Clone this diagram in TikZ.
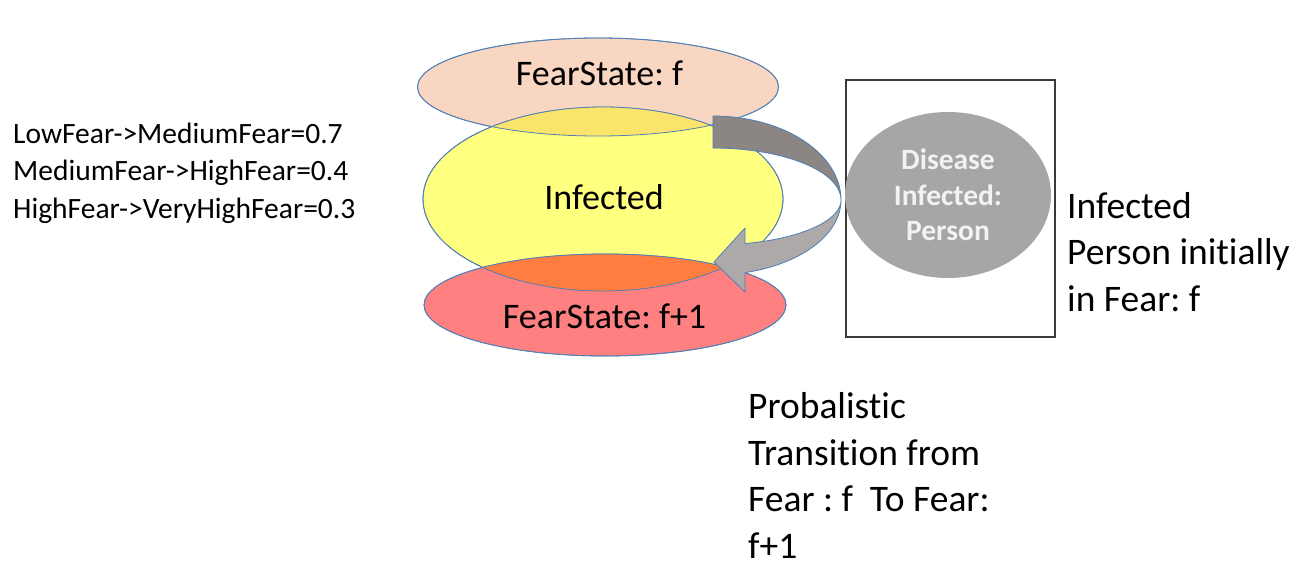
\documentclass[tikz,border=0pt]{standalone}
\usepackage{fontspec}
\setmainfont{Carlito}[Ligatures=NoCommon]
\usetikzlibrary{shapes.geometric}

\definecolor{peach}{HTML}{F9D6C1}
\definecolor{peachyellow}{HTML}{FBE46B}
\definecolor{lightyellow}{HTML}{FFFF80}
\definecolor{salmon}{HTML}{FF8080}
\definecolor{orangemix}{HTML}{FF7D41}
\definecolor{shapeline}{HTML}{4F7FB5}
\definecolor{arrowdark}{HTML}{8B8584}
\definecolor{arrowlight}{HTML}{AEA9A9}
\definecolor{personfill}{HTML}{A6A6A6}
\definecolor{boxline}{HTML}{3A3A3A}

\tikzset{
  state/.style={ellipse, draw=shapeline, line width=0.8pt, inner sep=0pt},
  statelabel/.style={font=\fontsize{36}{42}\selectfont, inner sep=0pt, anchor=base},
  note/.style={font=\fontsize{37.5}{46.5}\selectfont, align=left, inner sep=0pt, anchor=base west},
  rules/.style={font=\fontsize{29.5}{37.5}\selectfont, align=left, inner sep=0pt, anchor=base west},
  arrowband/.style={draw=shapeline, line width=0.8pt, line join=round},
}

\begin{document}
\frenchspacing
\begin{tikzpicture}[x=1pt, y=-1pt]
\useasboundingbox (0,0) rectangle (1316,565);

% three fear-state ellipses (fills first, outlines last)
\node[state, fill=peach, minimum width=361pt, minimum height=98pt] (fs) at (598,87) {};
\node[state, fill=lightyellow, minimum width=360pt, minimum height=184pt] (inf) at (603,199) {};
\node[state, fill=salmon, minimum width=362pt, minimum height=102pt] (fs1) at (605,305) {};

% overlapping regions
\begin{scope}
  \clip (598,87) ellipse [x radius=180.5pt, y radius=49pt];
  \fill[peachyellow] (603,199) ellipse [x radius=180pt, y radius=92pt];
\end{scope}
\begin{scope}
  \clip (605,305) ellipse [x radius=181pt, y radius=51pt];
  \fill[orangemix] (603,199) ellipse [x radius=180pt, y radius=92pt];
\end{scope}

% outlines on top of the fills
\draw[shapeline, line width=0.8pt] (598,87) ellipse [x radius=180.5pt, y radius=49pt];
\draw[shapeline, line width=0.8pt] (603,199) ellipse [x radius=180pt, y radius=92pt];
\draw[shapeline, line width=0.8pt] (605,305) ellipse [x radius=181pt, y radius=51pt];

\node[statelabel] (fst) at (599.5,85) {FearState: f};
\node[statelabel] (inft) at (604,209) {Infected};
\node[statelabel] (fs1t) at (604.5,328) {FearState: f+1};

% curved transition arrow: back band (darker) and front band with head (lighter)
\path[arrowband, fill=arrowdark]
  plot[domain=-90:0, samples=40] ({713+128*cos(\x)}, {200+84*sin(\x)})
  -- plot[domain=0:-90, samples=40] ({713+128*cos(\x)}, {200+52*sin(\x)})
  -- cycle;
\coordinate (tip) at (714,262);
\path[arrowband, fill=arrowlight]
  plot[domain=0:75.5, samples=40] ({713+128*cos(\x)}, {200+75*sin(\x)})
  -- (745,292) -- (tip) -- (745,228)
  -- plot[domain=75.5:0, samples=40] ({713+128*cos(\x)}, {200+45*sin(\x)})
  -- cycle;

% the infected person
\node[draw=boxline, line width=1.1pt, minimum width=209pt, minimum height=257pt, inner sep=0pt] (box) at (950.5,208.5) {};
\node[ellipse, fill=personfill, minimum width=206pt, minimum height=166pt, inner sep=0pt,
      text=white!95!black, font=\bfseries\fontsize{29.5}{35.5}\selectfont, align=center] (person) at (948,195)
  {Disease\\Infected:\\Person};

% annotations (base anchor sits on the last line)
\node[rules] (probs) at (13,218) {LowFear->MediumFear=0.7\\MediumFear->HighFear=0.4\\HighFear->VeryHighFear=0.3};
\node[note] (initial) at (1067,311) {Infected\\Person initially\\in Fear: f};
\node[note] (trans) at (748,558) {Probalistic\\Transition from\\Fear : f\ \ To Fear:\\f+1};

\end{tikzpicture}
\end{document}
